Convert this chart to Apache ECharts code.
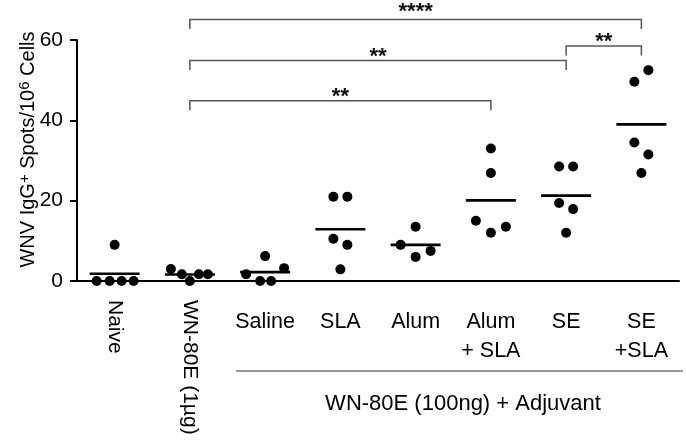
<!DOCTYPE html>
<html>
<head>
<meta charset="utf-8">
<script src="https://cdn.jsdelivr.net/npm/echarts@6/dist/echarts.min.js"></script>
<style>html,body{margin:0;padding:0;background:#fff}#c{width:686px;height:445px}</style>
</head>
<body>
<div id="c"></div>
<script>
// ---- data ----
const categories = ['Naive', 'WN-80E (1µg)', 'Saline', 'SLA', 'Alum', 'Alum\n+ SLA', 'SE', 'SE\n+SLA'];
const naive   = [9, 0, 0, 0, 0];
const wn1ug   = [3, 1.7, 0, 1.7, 1.7];
const saline  = [1.7, 6.2, 3.2, 0, 0];
const sla     = [21, 21, 10.5, 9, 2.9];
const alum    = [13.5, 9, 7.5, 6];
const alumSla = [33, 26.9, 15, 12, 13.5];
const se      = [28.5, 28.5, 19.4, 17.9, 12];
const seSla   = [52.5, 49.6, 34.5, 31.5, 26.9];
const yTicks  = [0, 20, 40, 60];
const yTitle  = '{n|WNV IgG}{s|+}{n| Spots/10}{s|6}{n| Cells}';
const groupLabel = 'WN-80E (100ng) + Adjuvant';
// significance brackets: [from category, to category, level (y units), label]
const brackets = [
  [1, 7, 65.1, '****'],
  [6, 7, 58.5, '**'],
  [1, 6, 54.9, '**'],
  [1, 5, 44.9, '**']
];

// ---- layout (horizontal spread of points within a column, px) ----
const jitterPx = [
  [0, -18, -5, 7, 19],
  [-19, -8, 0, 9, 18],
  [-19, 0, 19, -5, 6],
  [-7, 7, -7, 7, 0],
  [0, -15, 15, 0],
  [0, 0, -15, 0, 15],
  [-7, 7, -7, 7, 0],
  [7, -7, -7, 7, 0]
];
const bracketLabelGap = [8, 4, 4, 4];

const groups = [naive, wn1ug, saline, sla, alum, alumSla, se, seSla];
const pointData = [];
groups.forEach((g, i) => g.forEach((v, j) => {
  pointData.push({ value: [i, v], symbolOffset: [jitterPx[i][j], 0] });
}));
const meanData = groups.map((g, i) => [i, g.reduce((a, b) => a + b, 0) / g.length]);

const FONT = '"Liberation Sans", Arial, Helvetica, sans-serif';
const chart = echarts.init(document.getElementById('c'), null, { renderer: 'canvas' });

chart.setOption({
  animation: false,
  backgroundColor: '#fff',
  grid: { left: 77, right: 7, top: 40, bottom: 164, containLabel: false },
  xAxis: [
    {
      type: 'category', data: categories, boundaryGap: true,
      axisLine: { lineStyle: { color: '#000', width: 2 } },
      axisTick: { alignWithLabel: true, length: 7, lineStyle: { color: '#000', width: 2 } },
      axisLabel: {
        interval: 0, rotate: -90, margin: 19, color: '#000', fontSize: 21, fontFamily: FONT,
        formatter: (v, i) => (i < 2 ? v : '')
      },
      splitLine: { show: false }
    },
    {
      type: 'category', data: categories, boundaryGap: true, position: 'bottom',
      axisLine: { show: false }, axisTick: { show: false },
      axisLabel: {
        interval: 0, margin: 27, color: '#000', fontSize: 21.5, lineHeight: 29, fontFamily: FONT,
        align: 'center',
        formatter: (v, i) => (i >= 2 ? v : '')
      },
      splitLine: { show: false }
    }
  ],
  yAxis: {
    type: 'value', min: yTicks[0], max: yTicks[yTicks.length - 1], interval: 20,
    axisLine: { show: true, lineStyle: { color: '#000', width: 2 } },
    axisTick: { show: true, length: 7, lineStyle: { color: '#000', width: 2 } },
    axisLabel: { color: '#000', fontSize: 21, margin: 14, fontFamily: FONT },
    splitLine: { show: false },
    name: yTitle, nameLocation: 'middle', nameRotate: 90, nameGap: 38,
    nameMoveOverlap: false,
    nameTextStyle: {
      padding: [0, 0, 0, 22],
      rich: {
        n: { fontSize: 20, color: '#000', fontFamily: FONT, lineHeight: 22 },
        s: { fontSize: 15, color: '#000', fontFamily: FONT, verticalAlign: 'top', lineHeight: 12 }
      }
    }
  },
  series: [
    {
      type: 'scatter', xAxisIndex: 0, data: pointData, symbol: 'circle', symbolSize: 10,
      itemStyle: { color: '#000', opacity: 1 }, clip: false, z: 3
    },
    {
      type: 'scatter', xAxisIndex: 0, data: meanData, symbol: 'rect', symbolSize: [50, 2.6],
      itemStyle: { color: '#000', opacity: 1 }, clip: false, z: 4
    },
    {
      type: 'custom', xAxisIndex: 0, clip: false,
      data: brackets.map(b => [b[0], b[1], b[2]]),
      encode: { x: [0, 1], y: 2 },
      renderItem: function (params, api) {
        const a = api.coord([api.value(0), api.value(2)]);
        const b = api.coord([api.value(1), api.value(2)]);
        const drop = 9.5;
        return {
          type: 'group',
          children: [
            {
              type: 'polyline',
              shape: { points: [[a[0], a[1] + drop], [a[0], a[1]], [b[0], b[1]], [b[0], b[1] + drop]] },
              style: { stroke: '#555', lineWidth: 1.5, fill: null }
            },
            {
              type: 'text',
              style: {
                x: (a[0] + b[0]) / 2, y: a[1] - bracketLabelGap[params.dataIndex], text: brackets[params.dataIndex][3],
                fill: '#111', font: 'bold 22px ' + FONT, align: 'center', verticalAlign: 'middle'
              }
            }
          ]
        };
      }
    }
  ],
  graphic: [
    { type: 'line', shape: { x1: 236, y1: 371, x2: 683, y2: 371 }, style: { stroke: '#777', lineWidth: 1.5 } },
    { type: 'text', x: 463, y: 404, style: { text: groupLabel, font: '22px ' + FONT, fill: '#000', align: 'center', verticalAlign: 'middle' } }
  ]
});
</script>
</body>
</html>
